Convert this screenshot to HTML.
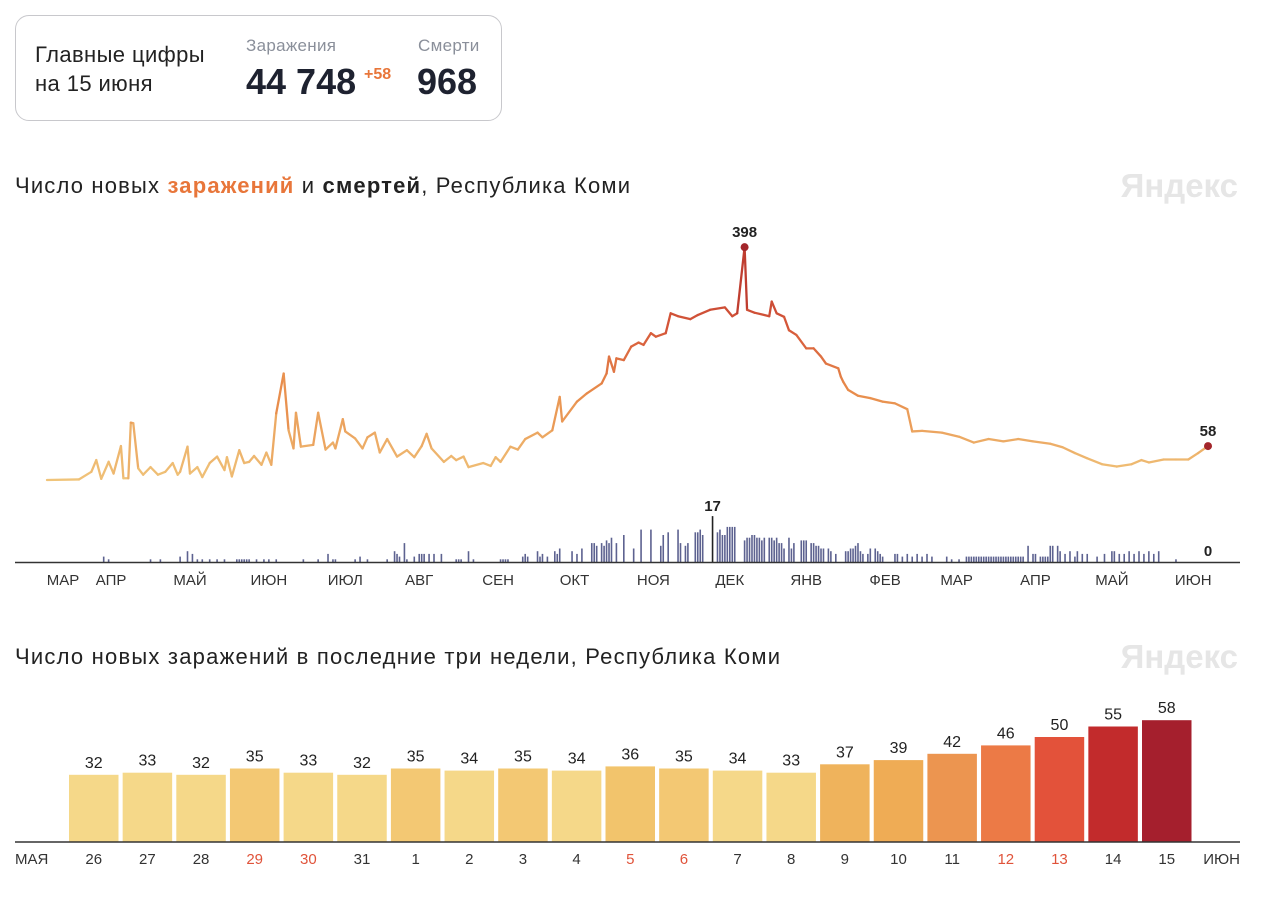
<!DOCTYPE html>
<html><head><meta charset="utf-8">
<style>
body{margin:0;background:#fff;width:1280px;height:897px;overflow:hidden;font-family:"Liberation Sans","Noto Sans CJK SC",sans-serif;color:#222;}
.card{position:absolute;left:15px;top:15px;width:487px;height:106px;border:1px solid #c8c8cc;border-radius:14px;box-sizing:border-box;}
svg{position:absolute;left:0;top:0;}
</style></head><body>
<div class="card">
  <div style="position:absolute;left:19px;top:24px;font-size:22px;letter-spacing:0.4px;line-height:29px;color:#222">Главные цифры<br>на 15 июня</div>
  <div style="position:absolute;left:230px;top:20px;font-size:17px;letter-spacing:0.3px;color:#8a8f9a">Заражения</div>
  <div style="position:absolute;left:230px;top:45px;font-size:36px;font-weight:bold;color:#1e2230">44 748</div>
  <div style="position:absolute;left:348px;top:50px;font-size:16px;font-weight:bold;color:#e8763a">+58</div>
  <div style="position:absolute;left:402px;top:20px;font-size:17px;letter-spacing:0.3px;color:#8a8f9a">Смерти</div>
  <div style="position:absolute;left:401px;top:45px;font-size:36px;font-weight:bold;color:#1e2230">968</div>
</div>
<svg id="chart" width="1280" height="897">
  <text x="15" y="193" font-size="22" fill="#222" textLength="615" lengthAdjust="spacing">Число новых <tspan fill="#e8763a" font-weight="bold">заражений</tspan> и <tspan font-weight="bold">смертей</tspan>, Республика Коми</text>
  <text x="1238" y="197" font-size="33" font-weight="bold" fill="#e6e6e6" text-anchor="end">Яндекс</text>
  <text x="15" y="664" font-size="22" fill="#222" textLength="765" lengthAdjust="spacing">Число новых заражений в последние три недели, Республика Коми</text>
  <text x="1238" y="668" font-size="33" font-weight="bold" fill="#e6e6e6" text-anchor="end">Яндекс</text>
  <g id="deaths"></g><g id="line"></g><g id="bars"></g>
</svg>
<script>
// line chart data (day index from start, new cases)
const caseDays=[0,13,18,20,22,25,27,30,31,33,34,35,37,39,42,45,48,51,53,54,57,58,61,63,66,69,72,73,75,78,80,82,84,87,89,91,93,96,98,100,101,103,108,110,113,116,117,120,121,125,128,130,133,135,138,142,146,149,152,154,156,161,164,166,169,171,177,180,182,184,188,191,194,199,201,205,208,209,215,219,225,227,228,230,231,234,237,240,242,245,247,251,253,256,261,264,269,275,278,280,283,284,287,293,294,296,299,301,304,308,311,314,316,321,322,323,325,329,334,339,344,349,351,355,363,370,376,382,388,394,400,407,412,417,422,428,434,440,444,447,453,458,463,467,471];
const caseVals=[0,1,14,34,2,31,11,58,3,3,98,97,20,9,22,9,14,29,9,14,57,11,22,5,29,40,17,39,6,51,29,31,41,26,47,26,114,182,85,54,115,57,60,115,52,64,54,104,83,71,54,73,81,47,70,40,51,39,58,79,54,31,41,34,40,22,29,24,39,31,57,52,70,81,73,85,142,100,134,148,165,182,211,185,208,205,228,235,231,251,245,251,285,280,275,282,291,295,280,285,398,291,286,280,305,285,279,256,248,225,225,211,199,191,177,168,154,144,140,134,131,121,83,84,81,74,64,70,66,70,66,62,56,46,37,27,23,27,34,30,35,35,35,46,58];
const deathDays=[23,25,42,46,54,57,59,61,63,66,69,72,77,78,79,80,81,82,85,88,90,93,104,110,114,116,117,125,127,130,138,141,142,143,145,146,149,151,152,153,155,157,160,166,167,168,171,173,184,185,186,187,193,194,195,199,200,201,203,206,207,208,213,215,217,221,222,223,225,226,227,228,229,231,234,238,241,245,249,250,252,256,257,259,260,263,264,265,266,270,272,273,274,275,276,277,278,279,283,284,285,286,287,288,289,290,291,293,294,295,296,297,298,299,301,302,303,306,307,308,310,311,312,313,314,315,317,318,320,324,325,326,327,328,329,330,331,333,334,336,337,338,339,344,345,347,349,351,353,355,357,359,365,367,370,373,374,375,376,377,378,379,380,381,382,383,384,385,386,387,388,389,390,391,392,393,394,395,396,398,400,401,403,404,405,406,407,408,410,411,413,415,417,418,420,422,426,429,432,433,435,437,439,441,443,445,447,449,451,458];
const deathVals=[2,1,1,1,2,4,3,1,1,1,1,1,1,1,1,1,1,1,1,1,1,1,1,1,3,1,1,1,2,1,1,4,3,2,7,1,2,3,3,3,3,3,3,1,1,1,4,1,1,1,1,1,2,3,2,4,2,3,2,4,3,5,4,3,5,7,7,6,7,6,8,7,9,7,10,5,12,12,6,10,11,12,7,6,7,11,11,12,10,17,11,12,10,10,13,13,13,13,8,9,9,10,10,9,9,8,9,9,9,8,9,7,7,5,9,5,7,8,8,8,7,7,6,6,5,5,5,4,3,4,4,5,5,6,7,4,3,3,5,5,4,3,2,3,3,2,3,2,3,2,3,2,2,1,1,2,2,2,2,2,2,2,2,2,2,2,2,2,2,2,2,2,2,2,2,2,2,2,2,6,3,3,2,2,2,2,6,6,6,4,3,4,2,4,3,3,2,3,4,4,3,3,4,3,4,3,4,3,4,1];
const monthLabels=["МАР","АПР","МАЙ","ИЮН","ИЮЛ","АВГ","СЕН","ОКТ","НОЯ","ДЕК","ЯНВ","ФЕВ","МАР","АПР","МАЙ","ИЮН"];
const monthDays=[6.5,26,58,90,121,151,183,214,246,277,308,340,369,401,432,465];
// bar chart data
const barDates=["26","27","28","29","30","31","1","2","3","4","5","6","7","8","9","10","11","12","13","14","15"];
const barVals=[32,33,32,35,33,32,35,34,35,34,36,35,34,33,37,39,42,46,50,55,58];
const holidays=["29","30","5","6","12","13"];

const NS="http://www.w3.org/2000/svg";
function mk(tag,attrs,parent){const e=document.createElementNS(NS,tag);for(const k in attrs)e.setAttribute(k,attrs[k]);parent.appendChild(e);return e;}
const xDay=d=>47+d*2.465;
const yCase=v=>480-v*0.585;
const yDeath=v=>562-v*2.7;
function lerp(a,b,t){return a+(b-a)*t;}
const stops=[[0,[240,196,122]],[150,[232,140,75]],[260,[214,88,58]],[400,[176,44,40]]];
function col(v){for(let i=0;i<stops.length-1;i++){const [a,ca]=stops[i],[b,cb]=stops[i+1];if(v<=b){const t=Math.max(0,(v-a)/(b-a));return `rgb(${ca.map((c,j)=>Math.round(lerp(c,cb[j],t))).join(',')})`;}}return 'rgb(176,44,40)';}

const dg=document.getElementById('deaths');
deathDays.forEach((d,i)=>{
  const v=deathVals[i];const top=Math.max(...deathVals)===v;
  const r=mk('rect',{x:xDay(d)-0.8,y:yDeath(v),width:1.6,height:v*2.7,fill:top?'#222':'#5d6290'},dg);
  
  
});
const ax=mk('line',{x1:15,x2:1240,y1:562.5,y2:562.5,stroke:'#333','stroke-width':1.5},dg);


monthLabels.forEach((m,i)=>{
  const t=mk('text',{x:xDay(monthDays[i]),y:585,'font-size':15,fill:'#333','text-anchor':'middle'},dg);t.textContent=m;
  
  
});
const maxD=Math.max(...deathVals),maxDi=deathVals.indexOf(maxD);
const dl=mk('text',{x:xDay(deathDays[maxDi]),y:yDeath(maxD)-5,'font-size':15,'font-weight':'bold',fill:'#222','text-anchor':'middle'},dg);dl.textContent=maxD;


const zl=mk('text',{x:xDay(caseDays[caseDays.length-1]),y:556,'font-size':15,'font-weight':'bold',fill:'#222','text-anchor':'middle'},dg);zl.textContent='0';



const lg=document.getElementById('line');
for(let i=0;i<caseDays.length-1;i++){
  const s=mk('line',{x1:xDay(caseDays[i]),y1:yCase(caseVals[i]),x2:xDay(caseDays[i+1]),y2:yCase(caseVals[i+1]),stroke:col((caseVals[i]+caseVals[i+1])/2),'stroke-width':2.3,'stroke-linecap':'round'},lg);
  
  
}
const maxC=Math.max(...caseVals),mi=caseVals.indexOf(maxC),li=caseVals.length-1;
[[mi,'peak'],[li,'last']].forEach(([i,n])=>{
  const c=mk('circle',{cx:xDay(caseDays[i]),cy:yCase(caseVals[i]),r:4,fill:'#a3262b'},lg);
  
  
  const t=mk('text',{x:xDay(caseDays[i]),y:yCase(caseVals[i])-10,'font-size':15,'font-weight':'bold',fill:'#222','text-anchor':'middle'},lg);t.textContent=caseVals[i];
  
  
});

const bg=document.getElementById('bars');
const bcols=[[32,'#f5d889'],[34,'#f5d889'],[35,'#f3c873'],[36,'#f2c46c'],[37,'#efb35c'],[39,'#efac55'],[42,'#ec9550'],[46,'#ec7a46'],[50,'#e3523a'],[55,'#c22b2c'],[58,'#a51f2d']];
function bcol(v){let c=bcols[0][1];for(const [t,cc] of bcols){if(v>=t)c=cc;}return c;}
const bx=i=>69+i*53.65, bw=49.5, by=v=>842-v*2.1;
barVals.forEach((v,i)=>{
  const r=mk('rect',{x:bx(i),y:by(v),width:bw,height:842-by(v),fill:bcol(v)},bg);
  
  
  const t=mk('text',{x:bx(i)+bw/2,y:by(v)-7,'font-size':16,fill:'#222','text-anchor':'middle'},bg);t.textContent=v;
  
  
  const d=mk('text',{x:bx(i)+bw/2,y:864,'font-size':15,fill:holidays.includes(barDates[i])?'#e0533a':'#333','text-anchor':'middle'},bg);d.textContent=barDates[i];
  
  
});
const bax=mk('line',{x1:15,x2:1240,y1:842,y2:842,stroke:'#333','stroke-width':1.5},bg);


[['МАЯ',15,'start'],['ИЮН',1240,'end']].forEach(([s,x,a])=>{
  const t=mk('text',{x:x,y:864,'font-size':15,fill:'#333','text-anchor':a},bg);t.textContent=s;
  
  
});
</script>
</body></html>
